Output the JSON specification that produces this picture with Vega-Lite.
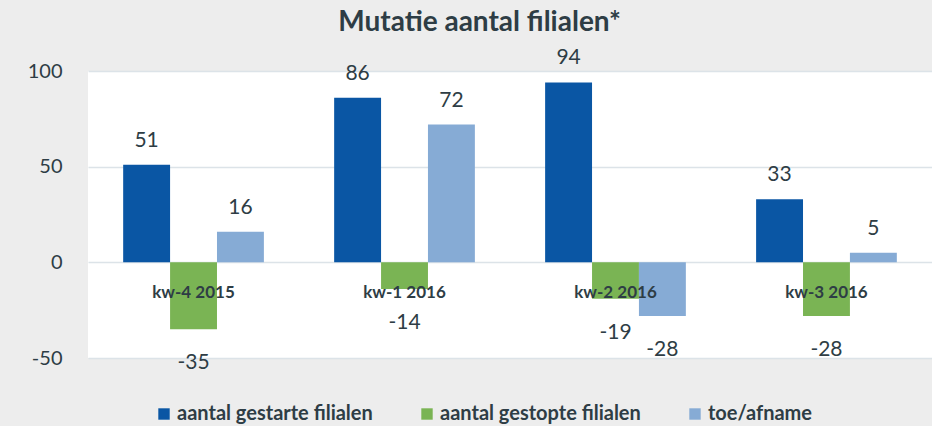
{
  "$schema": "https://vega.github.io/schema/vega-lite/v6.json",
  "width": 844,
  "height": 287,
  "autosize": "none",
  "padding": {"left": 88, "top": 71, "right": 0, "bottom": 68},
  "background": "#ededed",
  "title": {
    "text": "Mutatie aantal filialen*",
    "font": "Lato",
    "fontSize": 28,
    "fontWeight": "bold",
    "color": "#2e3d45",
    "anchor": "middle",
    "frame": "bounds",
    "offset": 10
  },
  "config": {
    "view": {"fill": "white", "stroke": null},
    "font": "Lato"
  },
  "data": {
    "values": [
      {"week": "kw-4 2015", "series": "aantal gestarte filialen", "value": 51},
      {"week": "kw-4 2015", "series": "aantal gestopte filialen", "value": -35},
      {"week": "kw-4 2015", "series": "toe/afname", "value": 16},
      {"week": "kw-1 2016", "series": "aantal gestarte filialen", "value": 86},
      {"week": "kw-1 2016", "series": "aantal gestopte filialen", "value": -14},
      {"week": "kw-1 2016", "series": "toe/afname", "value": 72},
      {"week": "kw-2 2016", "series": "aantal gestarte filialen", "value": 94},
      {"week": "kw-2 2016", "series": "aantal gestopte filialen", "value": -19},
      {"week": "kw-2 2016", "series": "toe/afname", "value": -28},
      {"week": "kw-3 2016", "series": "aantal gestarte filialen", "value": 33},
      {"week": "kw-3 2016", "series": "aantal gestopte filialen", "value": -28},
      {"week": "kw-3 2016", "series": "toe/afname", "value": 5}
    ]
  },
  "encoding": {
    "x": {
      "field": "week",
      "type": "nominal",
      "sort": ["kw-4 2015", "kw-1 2016", "kw-2 2016", "kw-3 2016"],
      "scale": {"paddingInner": 0.333, "paddingOuter": 0.1667},
      "axis": null
    },
    "xOffset": {
      "field": "series",
      "type": "nominal",
      "sort": ["aantal gestarte filialen", "aantal gestopte filialen", "toe/afname"],
      "scale": {"paddingInner": 0, "paddingOuter": 0}
    },
    "y": {
      "field": "value",
      "type": "quantitative",
      "scale": {"domain": [-50, 100], "nice": false, "zero": false},
      "axis": {
        "title": null,
        "values": [-50, 0, 50, 100],
        "labelExpr": "datum.value + ''",
        "domain": false,
        "ticks": false,
        "labelPadding": 26,
        "labelFont": "Lato",
        "labelFontSize": 20,
        "labelColor": "#2e3d45",
        "gridColor": "#dce3e8",
        "gridWidth": 1.5
      }
    }
  },
  "layer": [
    {
      "mark": {"type": "bar"},
      "encoding": {
        "color": {
          "field": "series",
          "type": "nominal",
          "sort": ["aantal gestarte filialen", "aantal gestopte filialen", "toe/afname"],
          "scale": {
            "domain": ["aantal gestarte filialen", "aantal gestopte filialen", "toe/afname"],
            "range": ["#0a56a4", "#7ab454", "#86abd5"]
          },
          "legend": {
            "title": null,
            "orient": "none",
            "direction": "horizontal",
            "legendX": 66,
            "legendY": 333,
            "symbolType": "square",
            "symbolSize": 130,
            "symbolStrokeWidth": 0,
            "labelFont": "Lato",
            "labelFontSize": 20,
            "labelFontWeight": "bold",
            "labelColor": "#2e3d45",
            "labelOffset": 3,
            "columnPadding": 44,
            "labelLimit": 400
          }
        }
      }
    },
    {
      "transform": [{"filter": "datum.value >= 0"}],
      "mark": {"type": "text", "baseline": "middle", "dy": -24, "fontSize": 21, "color": "#2e3d45", "font": "Lato"},
      "encoding": {"text": {"field": "value", "type": "nominal"}}
    },
    {
      "transform": [{"filter": "datum.value < 0"}],
      "mark": {"type": "text", "baseline": "middle", "dy": 34, "fontSize": 21, "color": "#2e3d45", "font": "Lato"},
      "encoding": {"text": {"field": "value", "type": "nominal"}}
    },
    {
      "transform": [{"filter": "datum.series === 'aantal gestarte filialen'"}],
      "mark": {"type": "text", "baseline": "middle", "fontSize": 17, "fontWeight": "bold", "color": "#2e3d45", "font": "Lato"},
      "encoding": {
        "xOffset": null,
        "y": {"datum": -16},
        "text": {"field": "week", "type": "nominal"}
      }
    }
  ]
}
